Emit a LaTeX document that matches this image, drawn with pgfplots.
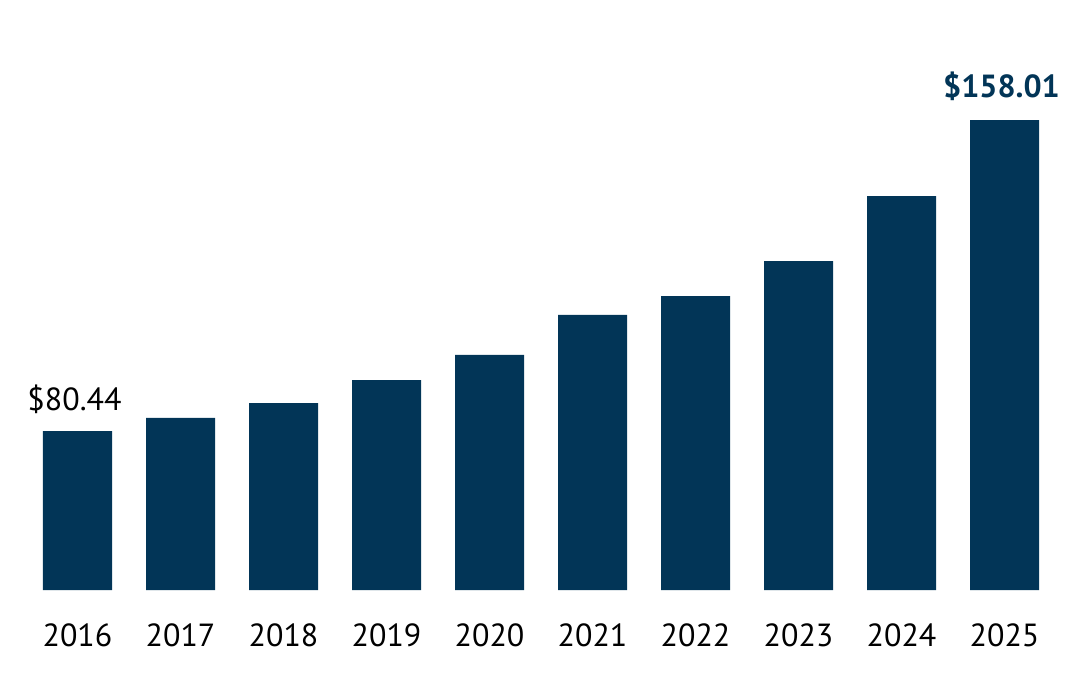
\documentclass[border=0pt]{standalone}
\usepackage{pgfplots}
\pgfplotsset{compat=1.18}
\usetikzlibrary{calc}
\usepackage{fontspec}
\setmainfont{PT Sans}
\definecolor{navy}{HTML}{023557}

\begin{document}
\begin{tikzpicture}
  \begin{axis}[
      name=ax,
      scale only axis,
      width=515pt,
      height=235pt,
      xmin=-0.5, xmax=9.5,
      ymin=40.78, ymax=158.01,
      hide y axis,
      axis x line*=bottom,
      x axis line style={draw=none},
      xtick={0,...,9},
      xticklabels={2016,2017,2018,2019,2020,2021,2022,2023,2024,2025},
      major tick length=0pt,
      xticklabel style={font=\fontsize{16}{18}\selectfont, yshift=-13.5pt},
      clip=false,
    ]
    \addplot[ybar, bar width=34.5pt, fill=navy, draw=none] coordinates {
      (0,80.44) (1,83.7) (2,87.4) (3,93.15) (4,99.4)
      (5,109.4) (6,114.1) (7,122.8) (8,139.0) (9,158.01)
    };
    \node[anchor=south, font=\fontsize{16}{18}\selectfont, inner sep=0pt]
      at (axis cs:0,80.44) [yshift=8.5pt, xshift=-1.5pt] {\$80.44};
    \node[anchor=south, font=\fontsize{16}{18}\selectfont\bfseries, text=navy, inner sep=0pt]
      at (axis cs:9,158.01) [yshift=9.5pt, xshift=-1.5pt] {\$158.01};
    \coordinate (sw) at (rel axis cs:0,0);
    \coordinate (ne) at (rel axis cs:1,1);
  \end{axis}
  \pgfresetboundingbox
  \useasboundingbox ($(sw)+(-13pt,-43pt)$) rectangle ($(ne)+(12.5pt,60pt)$);
\end{tikzpicture}
\end{document}
